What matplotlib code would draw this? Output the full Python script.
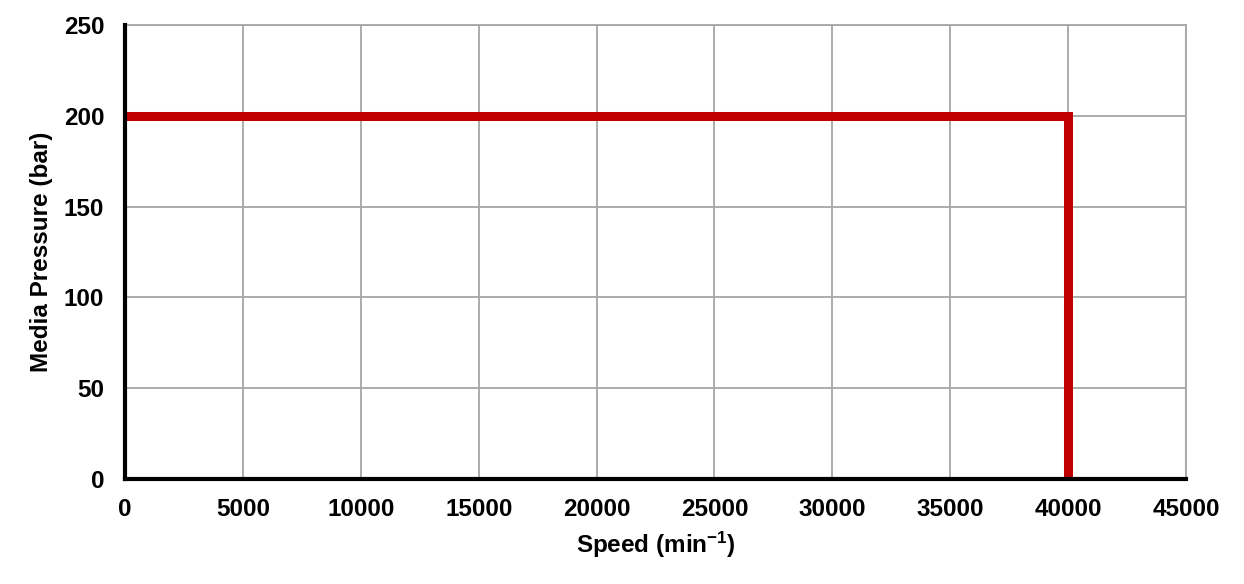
import matplotlib
matplotlib.use("Agg")
import matplotlib.pyplot as plt

speed = [0, 40000, 40000]
pressure = [200, 200, 0]
xticks = list(range(0, 45001, 5000))
yticks = list(range(0, 251, 50))

plt.rcParams['font.family'] = ['Liberation Sans', 'DejaVu Sans']
plt.rcParams['font.weight'] = 'bold'
plt.rcParams['mathtext.fontset'] = 'custom'
plt.rcParams['mathtext.rm'] = 'Liberation Sans:bold'
plt.rcParams['mathtext.bf'] = 'Liberation Sans:bold'
plt.rcParams['mathtext.default'] = 'bf'

fig = plt.figure(figsize=(12.44, 5.84), dpi=100)
ax = fig.add_axes([0.1005, 0.1798, 0.8529, 0.7774])

ax.plot(speed, pressure, color="#C00000", linewidth=6.5, solid_joinstyle="miter", zorder=3)

ax.set_xlim(0, 45000)
ax.set_ylim(0, 250)
ax.set_xticks(xticks)
ax.set_yticks(yticks)
ax.grid(True, color="#A6A6A6", linewidth=1.3)
ax.set_axisbelow(True)
ax.tick_params(length=0, labelsize=17.5)
ax.tick_params(axis="x", pad=14)
ax.tick_params(axis="y", pad=15)
for lab in ax.get_xticklabels() + ax.get_yticklabels():
    lab.set_fontweight("bold")

for s in ["top", "right"]:
    ax.spines[s].set_color("#A6A6A6")
    ax.spines[s].set_linewidth(1.3)
for s in ["left", "bottom"]:
    ax.spines[s].set_color("black")
    ax.spines[s].set_linewidth(3)
    ax.spines[s].set_zorder(4)

ax.set_xlabel("Speed (min$^{-1}$)", fontsize=17.5, fontweight="bold", labelpad=6)
ax.set_ylabel("Media Pressure (bar)", fontsize=17.5, fontweight="bold", labelpad=8)

fig.savefig("out.png", dpi=100)
